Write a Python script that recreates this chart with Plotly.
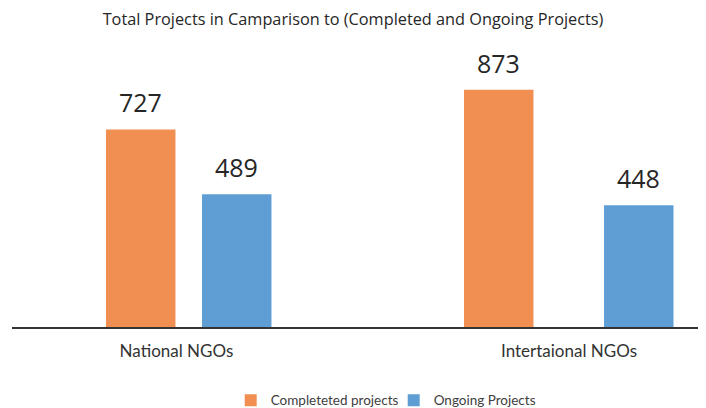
import plotly.graph_objects as go

categories = ["National NGOs", "Intertaional NGOs"]
series_names = ["Completeted projects", "Ongoing Projects"]
completed = [727, 873]
ongoing = [489, 448]

ORANGE = "#F18F53"
BLUE = "#5F9ED5"
TEXT = "#262626"

W, H = 698, 408
PX_PER_CAT = 392.5          # pixel distance between the two category centres
BAR_W = 0.177               # bar width in category units
# the source image spaces its bars unevenly, so each bar gets its own offset
OFFSETS = {
    "completed": [-0.1796, -0.2675],
    "ongoing": [0.065, 0.0892],
}

fig = go.Figure()
for name, vals, col, key in [(series_names[0], completed, ORANGE, "completed"),
                             (series_names[1], ongoing, BLUE, "ongoing")]:
    fig.add_trace(go.Bar(
        x=categories, y=vals, name=name,
        offset=OFFSETS[key], width=BAR_W,
        marker=dict(color=col, line=dict(width=0)),
    ))
    # value labels centred above each bar
    for cat, v, off in zip(categories, vals, OFFSETS[key]):
        fig.add_annotation(
            x=cat, y=v, text=str(v), showarrow=False,
            xshift=(off + BAR_W / 2) * PX_PER_CAT, yshift=8, yanchor="bottom",
            font=dict(family="Open Sans", size=25, color=TEXT),
        )

fig.update_layout(
    width=W, height=H,
    margin=dict(l=4, r=0, t=50, b=83),
    paper_bgcolor="white", plot_bgcolor="white",
    barmode="overlay",
    title=dict(
        text="Total Projects in Camparison to (Completed and Ongoing Projects)",
        x=345 / W, xanchor="center", xref="container",
        y=1 - 11 / H, yanchor="middle", yref="container",
        font=dict(family="Open Sans", size=16.3, color=TEXT),
    ),
    showlegend=True,
    legend=dict(
        orientation="h", x=0.55, xanchor="center",
        y=-0.273, yanchor="middle",
        font=dict(family="Lato", size=13.5, color="#404040"),
        itemwidth=30, traceorder="normal",
        entrywidth=118, entrywidthmode="pixels",
    ),
    xaxis=dict(
        range=[-0.419, 1.349],
        showline=True, linecolor="#333333", linewidth=1.5,
        ticks="", showgrid=False, zeroline=False,
        tickfont=dict(family="Lato", size=17, color="#333333"),
        ticklabelstandoff=8,
    ),
    yaxis=dict(
        range=[0, 990], visible=False, showgrid=False, zeroline=False,
    ),
)

fig.write_html("out.html")
